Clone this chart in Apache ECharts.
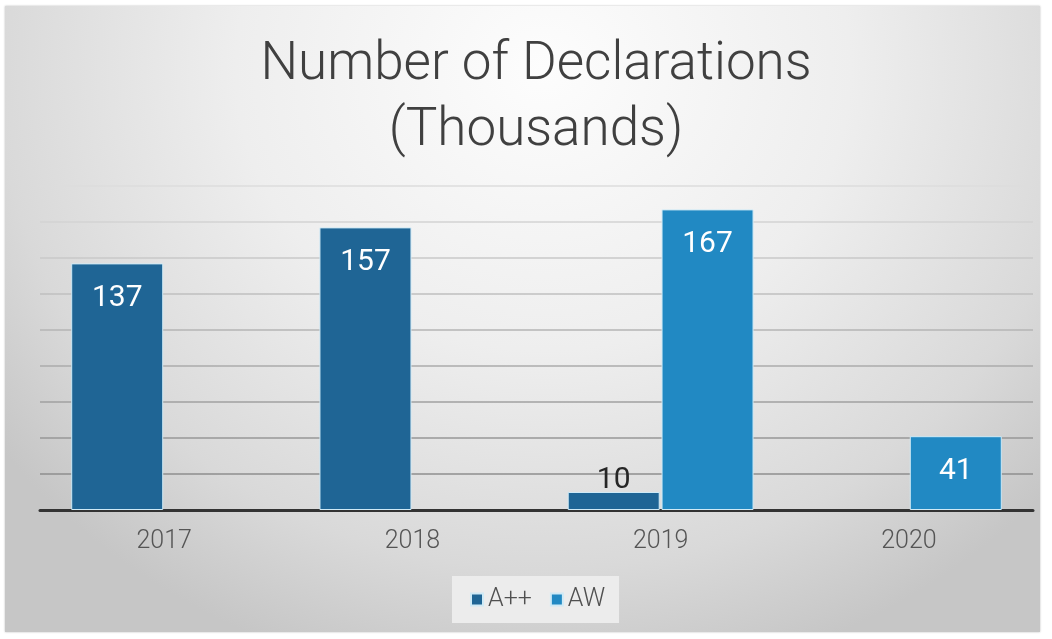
<!DOCTYPE html>
<html>
<head>
<meta charset="utf-8">
<script src="https://cdn.jsdelivr.net/npm/echarts@6/dist/echarts.min.js"></script>
<style>
  html, body { margin: 0; padding: 0; background: #fff; }
  #chart {
    position: absolute; left: 5px; top: 6px; width: 1035px; height: 626px;
    background: radial-gradient(ellipse 66% 100% at 52% 10%, #fdfdfd 0%, #eeeeee 45%, #d9d9d9 80%, #c6c6c6 100%);
    box-shadow: 0 0 2px #bdbdbd;
  }
</style>
</head>
<body>
<div id="chart"></div>
<script>
  // values (thousands)
  var years = ['2017', '2018', '2019', '2020'];
  var aPlus = [137, 157, 10, null];
  var aw = [null, null, 167, 41];
  var seriesNames = ['A++', 'AW'];

  var font = 'Roboto, "Liberation Sans", sans-serif';
  // gridline shades, from 0 upwards (lighter toward the top)
  var gridShades = ['#333333', '#8e8e8e', '#979797', '#a1a1a1', '#ababab', '#b5b5b5', '#bfbfbf', '#c9c9c9', '#d3d3d3', '#dddddd'];

  var chart = echarts.init(document.getElementById('chart'));
  chart.setOption({
    animation: false,
    textStyle: { fontFamily: font },
    title: {
      text: 'Number of Declarations\n(Thousands)',
      left: 526,
      textAlign: 'center',
      top: 22,
      textStyle: {
        fontFamily: font, fontWeight: 300, fontSize: 53,
        lineHeight: 66, color: '#404040'
      }
    },
    legend: {
      data: seriesNames,
      left: 447,
      top: 570,
      backgroundColor: 'rgba(238,238,238,0.9)',
      padding: [11, 14, 11, 18],
      itemWidth: 12,
      itemHeight: 12,
      itemGap: 18,
      icon: 'rect',
      textStyle: { fontFamily: font, fontWeight: 300, fontSize: 25, color: '#505050' }
    },
    grid: { left: 35, right: 7, top: 180, bottom: 122 },
    xAxis: {
      type: 'category',
      data: years,
      axisTick: { show: false },
      axisLine: { lineStyle: { color: '#333', width: 3 } },
      axisLabel: { fontFamily: font, fontWeight: 300, fontSize: 25, color: '#555', margin: 19 }
    },
    yAxis: {
      type: 'value',
      min: 0,
      max: 180,
      interval: 20,
      axisLabel: { show: false },
      axisLine: { show: false },
      axisTick: { show: false },
      splitLine: { lineStyle: { color: gridShades, width: 1.5 } }
    },
    series: [
      {
        name: seriesNames[0],
        type: 'bar',
        data: aPlus.map(function (v) {
          if (v === null) return '-';
          if (v < 20) {
            return { value: v, label: { position: 'top', distance: -3, color: '#262626' } };
          }
          return v;
        }),
        barWidth: 92,
        barGap: '2%',
        itemStyle: { color: '#1f6595', borderColor: '#cfeaf6', borderWidth: 1 },
        label: {
          show: true, position: 'insideTop', distance: 20,
          fontFamily: font, fontSize: 30, color: '#fff'
        }
      },
      {
        name: seriesNames[1],
        type: 'bar',
        data: aw.map(function (v) { return v === null ? '-' : v; }),
        barWidth: 92,
        itemStyle: { color: '#2189c3', borderColor: '#cfeaf6', borderWidth: 1 },
        label: {
          show: true, position: 'insideTop', distance: 20,
          fontFamily: font, fontSize: 30, color: '#fff'
        }
      }
    ]
  });
</script>
</body>
</html>
